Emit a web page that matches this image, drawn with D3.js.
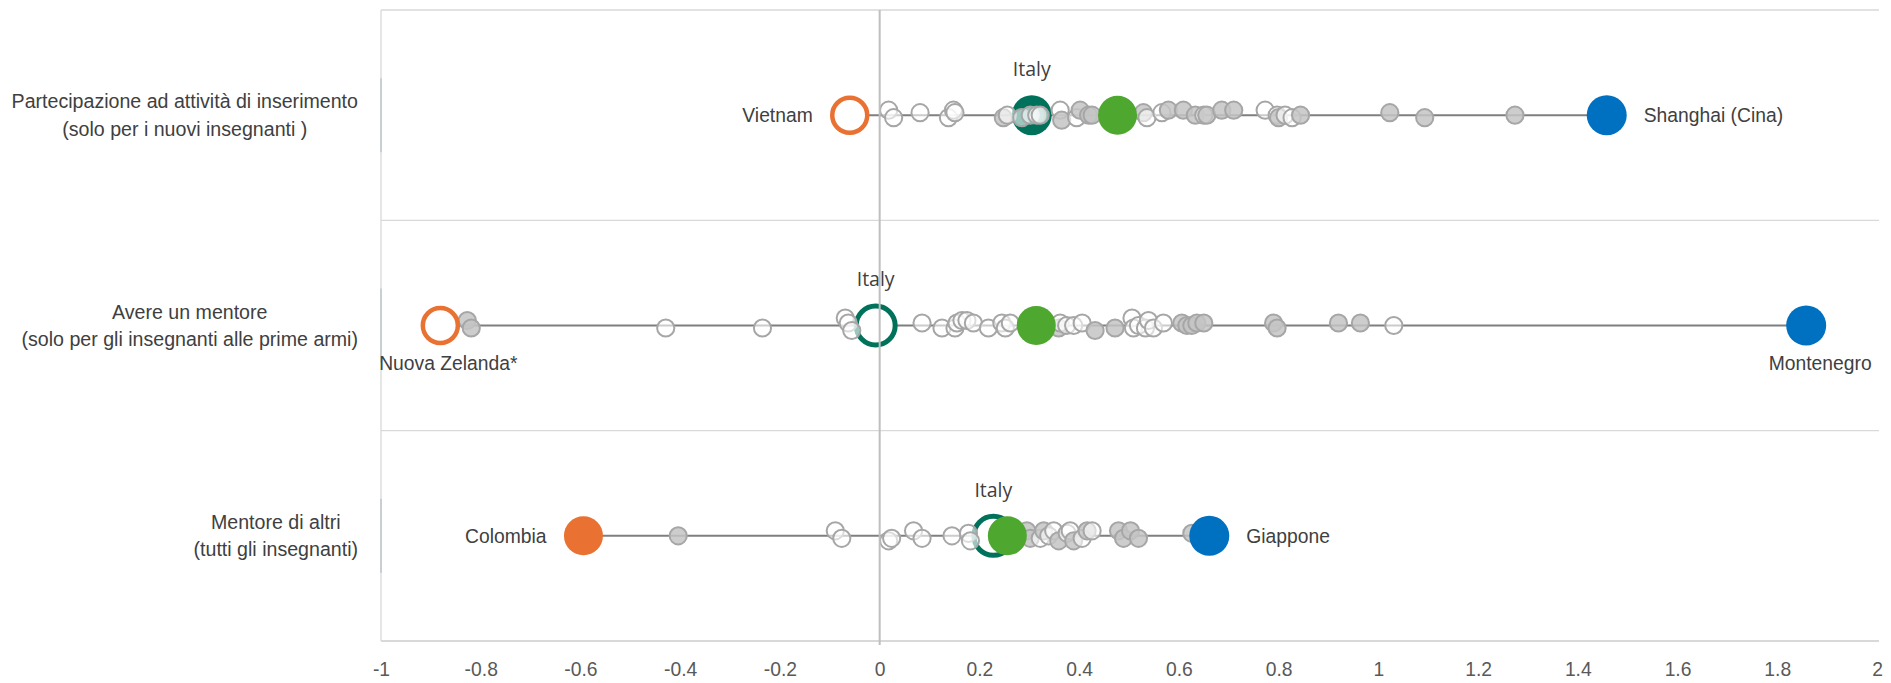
<!DOCTYPE html>
<html>
<head>
<meta charset="utf-8">
<script src="https://cdn.jsdelivr.net/npm/d3@7"></script>
<style>
  body { margin: 0; background: #ffffff; }
  svg { display: block; }
</style>
</head>
<body>
<svg id="chart" width="1891" height="683"></svg>
<script>
// Indicators (rows) and their two-line labels
const categories = ["induction", "mentor", "mentorOthers"];
const categoryLines = [
  ["Partecipazione ad attività di inserimento", "(solo per i nuovi insegnanti )"],
  ["Avere un mentore", "(solo per gli insegnanti alle prime armi)"],
  ["Mentore di altri", "(tutti gli insegnanti)"]
];

const tickValues = [-1, -0.8, -0.6, -0.4, -0.2, 0, 0.2, 0.4, 0.6, 0.8, 1, 1.2, 1.4, 1.6, 1.8, 2];

// Other countries: value, statistically significant (1) or not (0), overlap lane
const row1Values = [0.018, 0.028, 0.081, 0.138, 0.148, 0.151, 0.248, 0.256, 0.285, 0.302, 0.315, 0.322,
  0.362, 0.365, 0.395, 0.402, 0.419, 0.426, 0.529, 0.536, 0.566, 0.579, 0.609, 0.633, 0.650, 0.656,
  0.686, 0.710, 0.773, 0.797, 0.800, 0.813, 0.827, 0.844, 1.023, 1.093, 1.274];
const row1Significant = [0, 0, 0, 0, 0, 0, 1, 0, 0, 0, 0, 0,
  0, 1, 0, 1, 1, 1, 1, 0, 0, 1, 1, 1, 0, 1,
  1, 1, 0, 0, 1, 0, 0, 1, 1, 1, 1];
const row1Lanes = [-2, 1, -1, 1, -2, -1, 1, 0, 1, 0, 0, 0,
  -2, 2, 1, -2, 0, 0, -1, 1, -1, -2, -2, 0, 0, 0,
  -2, -2, -2, 0, 1, 0, 1, 0, -1, 1, 0];

const row2Values = [-0.827, -0.819, -0.429, -0.235, -0.069, -0.063, -0.056, 0.085, 0.125, 0.151, 0.155,
  0.165, 0.175, 0.188, 0.218, 0.245, 0.252, 0.262, 0.359, 0.362, 0.375, 0.389, 0.406, 0.432, 0.472,
  0.506, 0.509, 0.519, 0.533, 0.539, 0.549, 0.569, 0.606, 0.616, 0.626, 0.636, 0.650, 0.790, 0.797,
  0.920, 0.964, 1.031];
const row2Significant = [1, 1, 0, 0, 0, 0, 0, 0, 0, 0, 0,
  0, 0, 0, 0, 0, 0, 0, 1, 0, 0, 0, 0, 1, 1,
  0, 0, 0, 0, 0, 0, 0, 1, 1, 1, 1, 1, 1, 1,
  1, 1, 0];
const row2Lanes = [-2, 1, 1, 1, -3, -1, 2, -1, 1, 1, -1,
  -2, -2, -1, 1, -1, 1, -1, 1, -1, 0, 0, -1, 2, 1,
  -3, 1, 0, 1, -2, 1, -1, -1, 0, 0, -1, -1, -1, 1,
  -1, -1, 0];

const row3Values = [-0.404, -0.089, -0.076, 0.018, 0.024, 0.068, 0.085, 0.145, 0.178, 0.182, 0.295,
  0.302, 0.322, 0.329, 0.339, 0.349, 0.359, 0.376, 0.382, 0.389, 0.406, 0.416, 0.426, 0.479, 0.489,
  0.503, 0.519, 0.626];
const row3Significant = [1, 0, 0, 0, 0, 0, 0, 0, 0, 0, 1,
  1, 0, 1, 0, 0, 1, 0, 0, 1, 0, 1, 0, 1, 1,
  1, 1, 1];
const row3Lanes = [0, -2, 1, 2, 1, -2, 1, 0, -1, 2, -2,
  1, 1, -2, 0, -2, 2, -1, -2, 2, 1, -2, -2, -2, 1,
  -2, 1, -1];

// Highlighted countries per row
const lowCountries = ["Vietnam", "Nuova Zelanda*", "Colombia"];
const lowValues = [-0.06, -0.881, -0.594];
const lowSignificant = [0, 0, 1];
const lowLabelSide = ["left", "below", "left"];

const highCountries = ["Shanghai (Cina)", "Montenegro", "Giappone"];
const highValues = [1.458, 1.858, 0.661];
const highLabelSide = ["right", "below", "right"];

const italyLabel = "Italy";
const italyValues = [0.305, -0.008, 0.228];
const italySignificant = [1, 0, 0];

const oecdValues = [0.477, 0.314, 0.256];

// ---- drawing ----
const colors = { low: "#E97132", high: "#0070C0", italy: "#00715A", oecd: "#4EA72E" };
const svg = d3.select("#chart");

const x = d3.scaleLinear().domain([-1, 2]).range([381, 1877]);
const y = d3.scaleBand().domain(categories).range([10, 641]);
const lane = d3.scaleLinear().domain([-1, 1]).range([-2.5, 2.5]);

const rows = [
  { values: row1Values, sig: row1Significant, lanes: row1Lanes },
  { values: row2Values, sig: row2Significant, lanes: row2Lanes },
  { values: row3Values, sig: row3Significant, lanes: row3Lanes }
];

const frame = svg.append("g");
const left = x.range()[0], right = x.range()[1] + 2;
// top and bottom edges, row separators
frame.selectAll("line.sep")
  .data([y.range()[0], ...categories.slice(1).map(c => y(c)), y.range()[1]])
  .join("line")
  .attr("x1", left).attr("x2", right)
  .attr("y1", d => d).attr("y2", d => d)
  .attr("stroke", "#d9d9d9")
  .attr("stroke-width", (d, i, n) => i === n.length - 1 ? 2 : 1.3);
// left edge
frame.append("line")
  .attr("x1", left).attr("x2", left)
  .attr("y1", y.range()[0]).attr("y2", y.range()[1])
  .attr("stroke", "#d9d9d9").attr("stroke-width", 1.3);
frame.selectAll("line.cat")
  .data(categories)
  .join("line")
  .attr("x1", left).attr("x2", left)
  .attr("y1", d => y(d) + y.bandwidth() / 2 - 37)
  .attr("y2", d => y(d) + y.bandwidth() / 2 + 37)
  .attr("stroke", "#b8c4ca").attr("stroke-width", 1.3);

const baseFont = "'Liberation Sans', Arial, sans-serif";

// x axis labels
const axis = d3.axisBottom(x)
  .tickValues(tickValues)
  .tickSize(0)
  .tickPadding(21)
  .tickFormat(d => String(+d.toFixed(1)));
const axisG = svg.append("g")
  .attr("transform", `translate(0,${y.range()[1]})`)
  .call(axis);
axisG.select(".domain").remove();
axisG.selectAll("text")
  .attr("font-family", baseFont)
  .attr("font-size", 19.3)
  .attr("fill", "#595959");

// category labels, centred block whose right edge sits next to the plot
categories.forEach((c, i) => {
  const cy = y(c) + y.bandwidth() / 2;
  const t = svg.append("text")
    .attr("font-family", baseFont)
    .attr("font-size", 19.6)
    .attr("fill", "#404040")
    .attr("text-anchor", "middle");
  categoryLines[i].forEach((line, j) => {
    t.append("tspan").attr("x", 0).attr("y", cy + (j === 0 ? -7 : 20.5)).text(line);
  });
  const w = t.node().getBBox().width;
  t.attr("transform", `translate(${358 - w / 2},0)`);
});

categories.forEach((c, i) => {
  const cy = y(c) + y.bandwidth() / 2;
  const g = svg.append("g");

  // range line between the lowest and highest country
  g.append("line")
    .attr("x1", x(lowValues[i])).attr("x2", x(highValues[i]))
    .attr("y1", cy).attr("y2", cy)
    .attr("stroke", "#7f7f7f").attr("stroke-width", 2);

  // Italy
  if (italySignificant[i]) {
    g.append("circle").attr("cx", x(italyValues[i])).attr("cy", cy).attr("r", 20)
      .attr("fill", colors.italy);
  } else {
    g.append("circle").attr("cx", x(italyValues[i])).attr("cy", cy).attr("r", 19.5)
      .attr("fill", "#ffffff").attr("stroke", colors.italy).attr("stroke-width", 5);
  }

  // other countries
  const r = rows[i];
  const pts = r.values.map((v, k) => ({ v, s: r.sig[k], l: r.lanes[k] }));
  g.selectAll("circle.dot")
    .data(pts)
    .join("circle")
    .attr("class", "dot")
    .attr("cx", d => x(d.v))
    .attr("cy", d => cy + lane(d.l))
    .attr("r", 8.6)
    .attr("fill", d => d.s ? "#c4c4c4" : "#ffffff")
    .attr("fill-opacity", d => d.s ? 0.85 : 0.6)
    .attr("stroke", "#a6a6a6")
    .attr("stroke-width", 2);
});

// zero reference line
svg.append("line")
  .attr("x1", x(0)).attr("x2", x(0))
  .attr("y1", y.range()[0]).attr("y2", y.range()[1] + 4)
  .attr("stroke", "#bfbfbf").attr("stroke-width", 2);

categories.forEach((c, i) => {
  const cy = y(c) + y.bandwidth() / 2;
  const g = svg.append("g");

  // OECD average
  g.append("circle").attr("cx", x(oecdValues[i])).attr("cy", cy).attr("r", 19.5)
    .attr("fill", colors.oecd);

  // lowest country
  if (lowSignificant[i]) {
    g.append("circle").attr("cx", x(lowValues[i])).attr("cy", cy).attr("r", 19.5)
      .attr("fill", colors.low);
  } else {
    g.append("circle").attr("cx", x(lowValues[i])).attr("cy", cy).attr("r", 17.5)
      .attr("fill", "#ffffff").attr("stroke", colors.low).attr("stroke-width", 4.5);
  }
  // highest country
  g.append("circle").attr("cx", x(highValues[i])).attr("cy", cy).attr("r", 20)
    .attr("fill", colors.high);

  // labels sit beside the marker, or centred a little to the right beneath it
  const place = (sel, side, v) => {
    if (side === "left") sel.attr("x", x(v) - 37).attr("y", cy).attr("text-anchor", "end").attr("dy", "0.35em");
    else if (side === "right") sel.attr("x", x(v) + 37).attr("y", cy).attr("text-anchor", "start").attr("dy", "0.35em");
    else sel.attr("x", Math.min(x(v) + 8, 1891 - sel.node().getComputedTextLength() / 2 - 2))
      .attr("y", cy + 38).attr("text-anchor", "middle").attr("dy", "0.35em");
  };
  place(g.append("text").text(lowCountries[i])
    .attr("font-family", baseFont).attr("font-size", 19.3).attr("fill", "#404040"),
    lowLabelSide[i], lowValues[i]);
  const hi = g.append("text").text(highCountries[i])
    .attr("font-family", baseFont).attr("font-size", 19.3).attr("fill", "#404040");
  place(hi, highLabelSide[i], highValues[i]);
  if (highLabelSide[i] === "below") hi.attr("x", x(highValues[i]) + 14);

  // Italy label above its marker
  g.append("text")
    .attr("x", x(italyValues[i]))
    .attr("y", cy - 46)
    .attr("dy", "0.35em")
    .attr("text-anchor", "middle")
    .attr("font-family", "'Open Sans', 'Noto Sans', sans-serif")
    .attr("font-size", 19.5)
    .attr("fill", "#404040")
    .text(italyLabel);
});
</script>
</body>
</html>
